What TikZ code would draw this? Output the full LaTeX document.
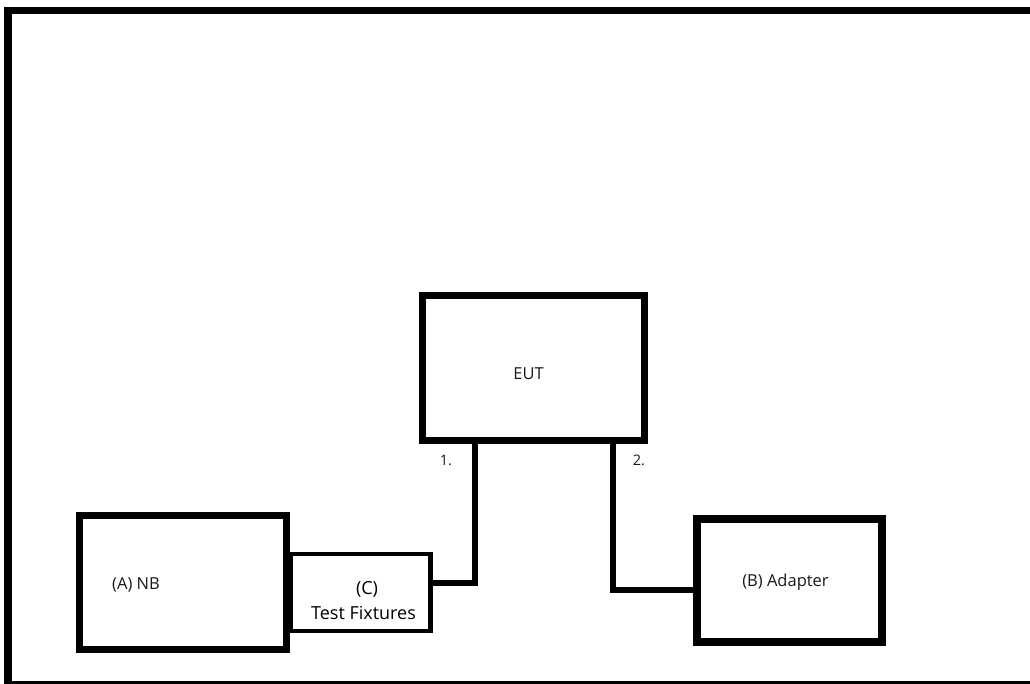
\documentclass[tikz,border=0pt]{standalone}
\usepackage{fontspec}
\setmainfont{Open Sans}
\begin{document}
\begin{tikzpicture}[x=1pt,y=-1pt,
  boxthick/.style={draw=black,line width=7pt,inner sep=0pt,outer sep=0pt},
  boxthin/.style={draw=black,line width=4.5pt,inner sep=0pt,outer sep=0pt},
  wire/.style={draw=black,line width=6pt,line join=miter},
  lbl/.style={anchor=base,inner sep=0pt,font=\fontsize{16.5}{18}\selectfont,text=black!90},
  lblbig/.style={anchor=base,inner sep=0pt,font=\fontsize{18}{20}\selectfont,text=black}]
\useasboundingbox (0,0) rectangle (1030,684);
\clip (0,0) rectangle (1030,684);
\fill[white] (0,0) rectangle (1030,684);
% outer frame
\draw[line width=7.5pt] (8,10.5) rectangle (1045,685);
% boxes
\node[boxthick,minimum width=222pt,minimum height=144pt] (eut) at (533,368) {};
\node[boxthick,minimum width=207pt,minimum height=134.5pt] (nb) at (183,582.25) {};
\node[boxthin,minimum width=139.5pt,minimum height=77pt] (fix) at (360.75,592.5) {};
\node[boxthick,line width=7.5pt,minimum width=185pt,minimum height=123pt] (adapter) at (789.5,580.5) {};
% labels
\node[lbl] (teut) at (528.5,379) {EUT};
\node[lbl] (tnb) at (136,589) {(A) NB};
\node[lblbig] (tc) at (367,594) {(C)};
\node[lblbig] (tfix) at (363.5,619) {Test Fixtures};
\node[lbl] (tad) at (785.5,586) {(B) Adapter};
\node[lbl,font=\fontsize{14.5}{16}\selectfont] (n1) at (446,465) {1.};
\node[lbl,font=\fontsize{14.5}{16}\selectfont] (n2) at (639,465) {2.};
% connectors
\coordinate (j1) at (474.5,582.5);
\coordinate (j2) at (613,589.5);
\draw[wire] (j1 |- eut.south) -- (j1) -- ([xshift=-3pt]fix.east |- j1);
\draw[wire] (j2 |- eut.south) -- (j2) -- (adapter.west |- j2);
\end{tikzpicture}
\end{document}
